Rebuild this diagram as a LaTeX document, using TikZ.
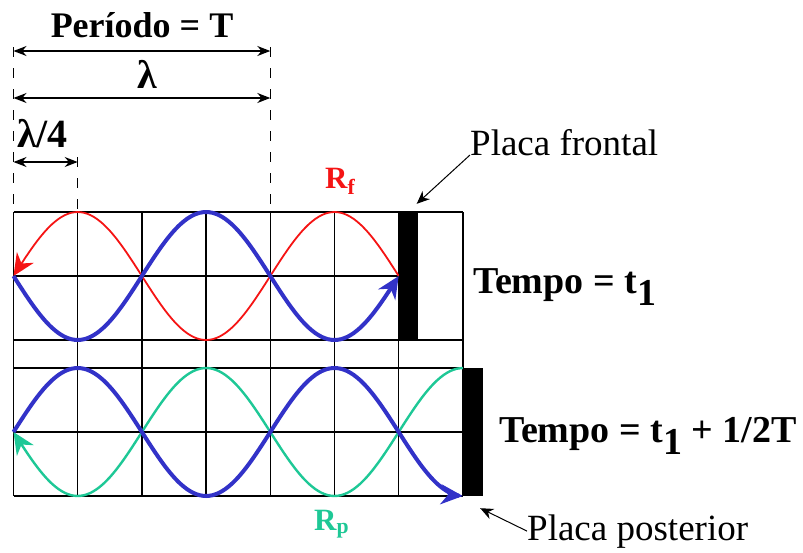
\documentclass[tikz,border=0pt]{standalone}
\usepackage{fontspec}
\IfFontExistsTF{LiberationSerif-Regular.ttf}
  {\setmainfont{LiberationSerif}[Extension=.ttf, UprightFont=*-Regular,
     BoldFont=*-Bold, ItalicFont=*-Italic, BoldItalicFont=*-BoldItalic]}
  {\setmainfont{Liberation Serif}}
\usetikzlibrary{arrows.meta}
\definecolor{wavered}{RGB}{245,20,20}
\definecolor{waveblue}{RGB}{50,50,200}
\definecolor{wavegreen}{RGB}{30,200,150}

\begin{document}
\begin{tikzpicture}[
    x=1pt, y=-1pt,
    gridline/.style={line width=1.3pt},
    guide/.style={line width=1.2pt, dash pattern=on 10pt off 11pt},
    dim/.style={line width=1.3pt, {Stealth[length=13pt,width=10pt]}-{Stealth[length=13pt,width=10pt]}},
    headtxt/.style={inner sep=0pt, font=\fontsize{36}{40}\selectfont\bfseries},
    lamtxt/.style={inner sep=0pt, font=\fontsize{40}{44}\selectfont\bfseries},
    timetxt/.style={inner sep=0pt, font=\fontsize{38}{42}\selectfont\bfseries},
    platetxt/.style={inner sep=0pt, font=\fontsize{37}{44}\selectfont},
    wavetxt/.style={inner sep=0pt, font=\fontsize{31}{34}\selectfont\bfseries},
    plate/.style={fill=black, inner sep=0pt, minimum height=128pt},
    wave/.style={line join=round, smooth},
    tipback/.style={{Stealth[length=22pt,width=20pt]}-},
    tipfwd/.style={-{Stealth[length=22pt,width=20pt]}},
    pointer/.style={line width=1pt, -{Stealth[length=13pt,width=11pt]}}
  ]
  \useasboundingbox (0,0) rectangle (803,552);

  \foreach \i in {0,...,7}
    \draw[gridline] ({13.5+64.2*\i},212) -- ({13.5+64.2*\i},496);
  \foreach \r in {212,340,368,432,496}
    \draw[gridline] (13.5,\r) -- (462.9,\r);
  \draw[gridline] (13.5,276) -- (398.7,276);

  \coordinate (g0) at (13.5,212);
  \coordinate (g1) at (77.7,212);
  \coordinate (g4) at (270.3,212);
  \draw[guide] (13.5,47) -- (g0);
  \draw[guide] (77.7,157) -- (g1);
  \draw[guide] (270.3,47) -- (g4);

  \coordinate (per0) at (13.5,51);
  \coordinate (per1) at (270.3,51);
  \coordinate (lam0) at (13.5,98);
  \coordinate (lam1) at (270.3,98);
  \coordinate (qtr0) at (13.5,162);
  \coordinate (qtr1) at (77.7,162);
  \draw[dim] (per0) -- (per1);
  \draw[dim] (lam0) -- (lam1);
  \draw[dim] (qtr0) -- (qtr1);
  \node[headtxt, anchor=base] (periodo) at (142,37) {Período = T};
  \node[lamtxt, anchor=base] (lambda) at (147,88) {λ};
  \node[lamtxt, anchor=base west] (quarter) at (17,147) {λ/4};

  \draw[wave, wavered, line width=1.8pt, tipback]
    plot[domain=0:6, samples=61] ({13.5+64.2*\x},{276-64*sin(90*\x)});
  \draw[wave, waveblue, line width=4pt, tipfwd]
    plot[domain=0:6, samples=61] ({13.5+64.2*\x},{276+64*sin(90*\x)});
  \draw[wave, wavegreen, line width=2.4pt, tipback]
    plot[domain=0:7, samples=71] ({13.5+64.2*\x},{432+64*sin(90*\x)});
  \draw[wave, waveblue, line width=4pt, tipfwd]
    plot[domain=0:7, samples=71] ({13.5+64.2*\x},{432-64*sin(90*\x)});

  \node[plate, minimum width=19pt] (front) at (408,276) {};
  \node[plate, minimum width=20pt] (back) at (473,432) {};

  \node[wavetxt, text=wavered, anchor=base west] (rf) at (325,188) {R\textsubscript{f}};
  \node[wavetxt, text=wavegreen, anchor=base west] (rp) at (314,530) {R\textsubscript{p}};

  \node[timetxt, anchor=base west] (time1) at (473,293) {Tempo = t\raisebox{-0.33em}{1}};
  \node[timetxt, anchor=base west] (time2) at (499,442) {Tempo = t\raisebox{-0.33em}{1} + 1/2T};

  \node[platetxt, anchor=base west] (frontlbl) at (470,155) {Placa frontal};
  \node[platetxt, anchor=base west] (backlbl) at (527,540) {Placa posterior};
  \draw[pointer] (frontlbl.base west) -- ([shift={(-1,-8)}]front.north east);
  \draw[pointer] (backlbl.west) -- ([shift={(-3,12)}]back.south east);
\end{tikzpicture}
\end{document}
